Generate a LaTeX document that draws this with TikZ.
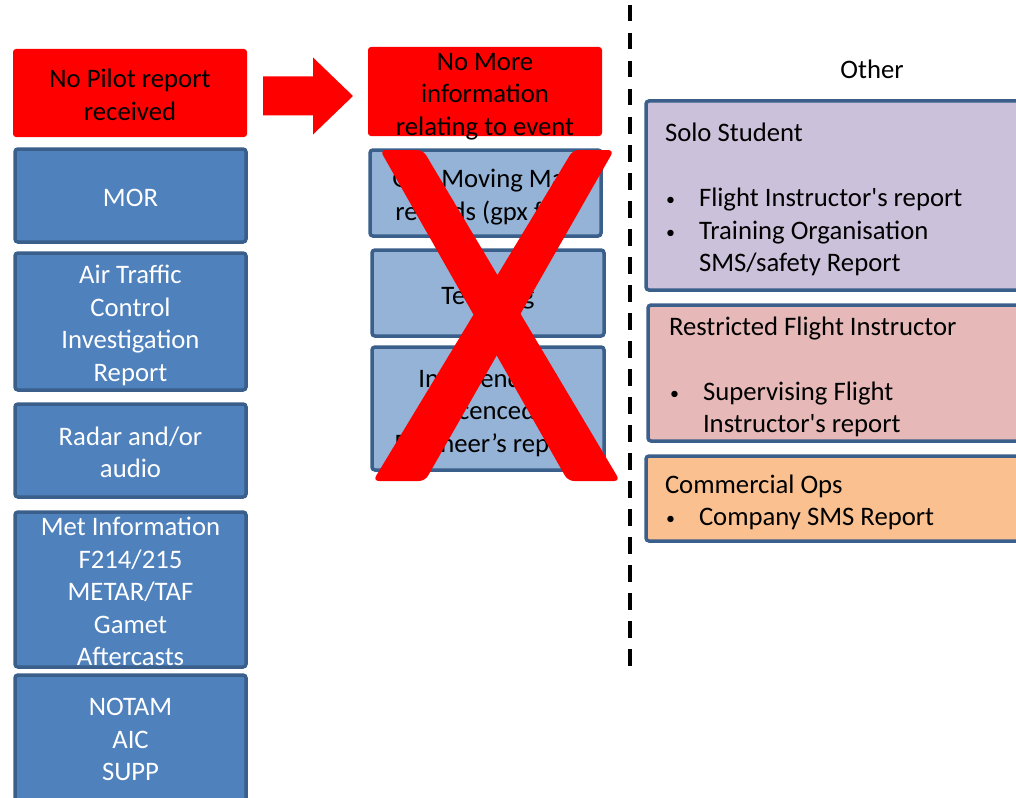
\documentclass[tikz,border=0pt]{standalone}
\usepackage{fontspec}
\setmainfont{Carlito}
\definecolor{alertred}{HTML}{FF0000}
\definecolor{darkblue}{HTML}{4F81BD}
\definecolor{paleblue}{HTML}{95B3D7}
\definecolor{edgeblue}{HTML}{3A5F8B}
\definecolor{lavender}{HTML}{CCC1DA}
\definecolor{rosepink}{HTML}{E6B9B8}
\definecolor{peach}{HTML}{FAC090}
\newcommand{\bul}{\makebox[34pt][l]{\hspace{1pt}\raisebox{1pt}{\fontsize{18}{18}\selectfont\textbullet}}}
\newcommand{\ind}{\hspace*{34pt}}
\newcommand{\apos}{\textquotesingle}
% fixed line struts so that text blocks are centred on font metrics
\newcommand{\topstrut}{\rule{0pt}{27.35pt}}
\newcommand{\botstrut}{\rule[-5.15pt]{0pt}{5.15pt}}
\begin{document}
\begin{tikzpicture}[x=1pt,y=-1pt,
  every node/.style={font=\fontsize{26.7}{32.5}\selectfont, inner sep=0pt, outer sep=0pt},
  base/.style={rectangle, rounded corners=3pt, anchor=north west, align=flush center, text width=226pt,
    execute at begin node=\topstrut, execute at end node=\botstrut},
  redbox/.style={base, fill=alertred},
  darkbox/.style={base, fill=darkblue, draw=edgeblue, line width=3.5pt, text=white},
  lightbox/.style={base, fill=paleblue, draw=edgeblue, line width=3.5pt},
  sidebox/.style={base, draw=edgeblue, line width=3.5pt, align=flush left, inner xsep=19pt, text width=346pt},
  cross/.style={fill=alertred, rounded corners=6pt},
  divider/.style={line width=4.5pt, dash pattern=on 16.5pt off 11.5pt}
]
\useasboundingbox (0,0) rectangle (1016,797);
\clip (0,0) rectangle (1016,797);

% left column: sources available
\node[redbox, minimum width=234pt, minimum height=88pt] (pilot) at (13,49) {No Pilot report\\received};
\node[darkbox, minimum width=231pt, minimum height=93pt] (mor) at (15,149) {MOR};
\node[darkbox, minimum width=231pt, minimum height=137pt] (atc) at (15,253) {Air Traffic\\Control\\Investigation\\Report};
\node[darkbox, minimum width=231pt, minimum height=93pt] (radar) at (15,404) {Radar and/or\\audio};
\node[darkbox, minimum width=231pt, minimum height=155pt, inner ysep=-3.75pt] (met) at (15,512) {Met Information\\F214/215\\METAR/TAF\\Gamet\\Aftercasts};
\node[darkbox, minimum width=231pt, minimum height=140pt,
  execute at end node={\rule[-21.15pt]{0pt}{21.15pt}}] (notam) at (15,675) {NOTAM\\AIC\\SUPP};

% block arrow between the two red boxes
\coordinate (arrowtail) at (263,95.5);
\fill[alertred] (arrowtail) ++(0,-19) -- ++(50,0) -- ++(0,-19) -- ++(40,38.5) -- ++(-40,38.5) -- ++(0,-19) -- ++(-50,0) -- cycle;

% middle column: sources struck out
\node[redbox, minimum width=234pt, minimum height=89pt, inner ysep=-4.25pt] (nomore) at (368,47) {No More\\information\\relating to event};
\node[lightbox, minimum width=231pt, minimum height=86pt] (gpx) at (370,150) {GPS Moving Map\\records (gpx file)};
\node[lightbox, minimum width=232pt, minimum height=86pt] (tech) at (372,250) {Tech Log};
\node[lightbox, minimum width=232pt, minimum height=123pt] (eng) at (372,347) {Independent\\Licenced\\Engineer’s report};

% the cross drawn over the middle column
\fill[cross] (380,150) -- (423,150) -- (620,481) -- (568,481) -- cycle;
\fill[cross] (573,150) -- (614,150) -- (425,481) -- (373,481) -- cycle;

% divider
\coordinate (dtop) at (630,5);
\coordinate (dbot) at (630,666);
\draw[divider] (dtop) -- (dbot);

% right column: other sources
\node (other) at (872,69) {Other};
\node[sidebox, fill=lavender, minimum height=189pt] (solo) at (646,101)
  {Solo Student\\[32.5pt]\bul Flight Instructor\apos s report\\\bul Training Organisation\\\ind SMS/safety Report};
\node[sidebox, fill=rosepink, minimum height=136pt, inner xsep=21pt] (rfi) at (648,305)
  {Restricted Flight Instructor\\[32.5pt]\bul Supervising Flight\\\ind Instructor\apos s report};
\node[sidebox, fill=peach, minimum height=85pt] (comm) at (646,456)
  {Commercial Ops\\\bul Company SMS Report};
\end{tikzpicture}
\end{document}
